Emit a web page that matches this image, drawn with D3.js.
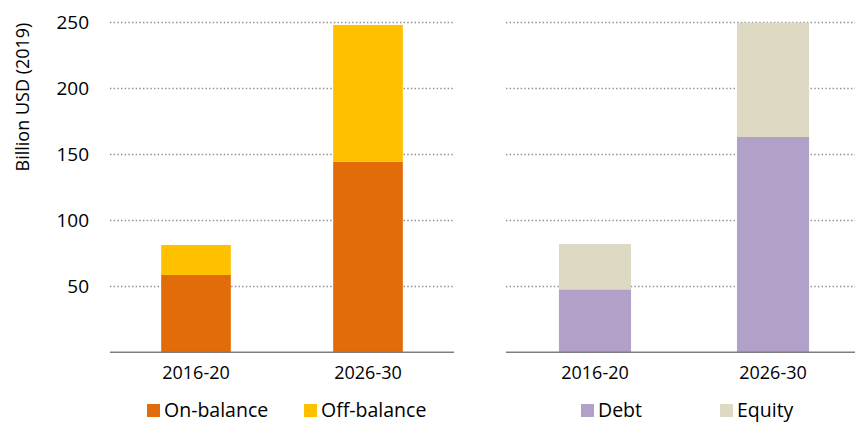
<!DOCTYPE html>
<html><head><meta charset="utf-8">
<script src="https://cdn.jsdelivr.net/npm/d3@7"></script>
<style>body{margin:0;background:#fff}svg{display:block;font-family:"Open Sans",sans-serif}</style>
</head><body><svg id="c" width="855" height="422"></svg>
<script>
const categories = ["2016-20", "2026-30"];
const onBalance = [58.6, 144.4];
const offBalance = [22.7, 103.6];
const debt = [47.7, 163.1];
const equity = [34.3, 86.6];
const yTicks = [50, 100, 150, 200, 250];
const yTitle = "Billion USD (2019)";
const panels = [
  {x0:110, x1:454, series:[{name:"On-balance", values:onBalance, color:"#E36C0A"},{name:"Off-balance", values:offBalance, color:"#FFC000"}], legendX:[147,304], showAxis:true},
  {x0:506, x1:862, series:[{name:"Debt", values:debt, color:"#B1A0C7"},{name:"Equity", values:equity, color:"#DDD9C3"}], legendX:[581,720], showAxis:false}
];
const svg = d3.select("#c");
const y = d3.scaleLinear().domain([0,250]).range([352.3, 22.3]);

panels.forEach(p => {
  const x = d3.scaleBand().domain(categories).range([p.x0, p.x1]).paddingInner(0.595).paddingOuter(0.2975);
  const g = svg.append("g");
  g.selectAll("line.grid").data(yTicks).join("line")
    .attr("x1", p.x0).attr("x2", Math.min(p.x1, 855))
    .attr("y1", d => Math.round(y(d))+0.5).attr("y2", d => Math.round(y(d))+0.5)
    .attr("stroke", "#8c8c8c").attr("stroke-width", 1.4).attr("stroke-dasharray", "1.4,2.27");
  const data = categories.map((c,i) => ({cat:c, a:p.series[0].values[i], b:p.series[1].values[i]}));
  const stack = d3.stack().keys(["a","b"])(data);
  stack.forEach((layer, li) => {
    g.selectAll(null).data(layer).join("rect")
      .attr("x", d => x(d.data.cat)).attr("width", x.bandwidth())
      .attr("y", d => y(d[1])).attr("height", d => y(d[0]) - y(d[1]))
      .attr("fill", p.series[li].color);
  });
  const ax = g.append("g").attr("transform", `translate(0,${y(0)})`)
    .call(d3.axisBottom(x).tickSize(0).tickPadding(14).tickSizeOuter(0));
  ax.select(".domain").attr("stroke", "#7f7f7f").attr("stroke-width", 1.5)
    .attr("d", `M${p.x0},0H${Math.min(p.x1,855)}`);
  ax.selectAll("text").attr("font-size", 18).attr("fill", "#000").attr("font-family", "'Open Sans',sans-serif");
  if (p.showAxis) {
    const ya = g.append("g").attr("transform", "translate(89,0)")
      .call(d3.axisLeft(y).tickValues(yTicks).tickSize(0).tickPadding(0));
    ya.select(".domain").remove();
    ya.selectAll("text").attr("font-size", 19).attr("fill", "#000").attr("font-family", "'Open Sans',sans-serif");
    svg.append("text").attr("transform", "translate(29,97) rotate(-90)")
      .attr("text-anchor", "middle").attr("font-size", 18).attr("fill", "#000").text(yTitle);
  }
  p.series.forEach((s, i) => {
    const lg = svg.append("g").attr("transform", `translate(${p.legendX[i]},404)`);
    lg.append("rect").attr("width", 13).attr("height", 13).attr("fill", s.color);
    lg.append("text").attr("x", 17).attr("y", 12.5).attr("font-size", 19.5).attr("fill", "#000").text(s.name);
  });
});
</script></body></html>
